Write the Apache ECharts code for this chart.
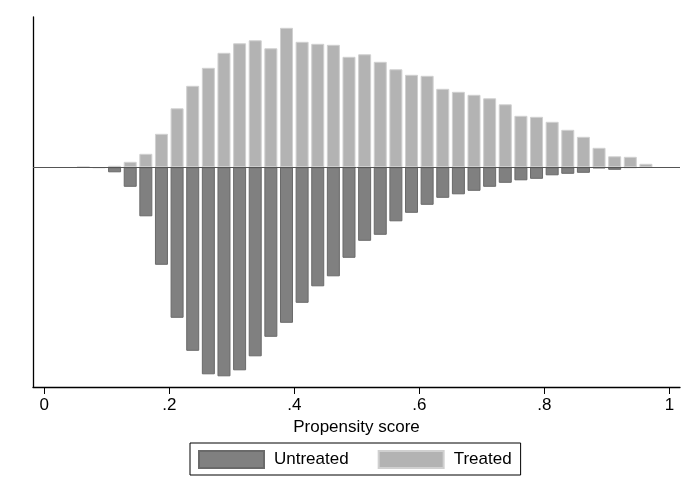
<!DOCTYPE html>
<html>
<head>
<meta charset="utf-8">
<script src="https://cdn.jsdelivr.net/npm/echarts@6/dist/echarts.min.js"></script>
<style>
html,body{margin:0;padding:0;background:#fff;}
#c{width:687px;height:498px;}
</style>
</head>
<body>
<div id="c"></div>
<script>
// Bin centres of the propensity-score histogram (bin width 0.025)
const binCenters = [0.0125,0.0375,0.0625,0.0875,0.1125,0.1375,0.1625,0.1875,0.2125,0.2375,
  0.2625,0.2875,0.3125,0.3375,0.3625,0.3875,0.4125,0.4375,0.4625,0.4875,
  0.5125,0.5375,0.5625,0.5875,0.6125,0.6375,0.6625,0.6875,0.7125,0.7375,
  0.7625,0.7875,0.8125,0.8375,0.8625,0.8875,0.9125,0.9375,0.9625,0.9875];
// Treated densities (drawn upward)
const treated = [0,0,0.01,0,0.03,0.11,0.27,0.67,1.18,1.63,
  1.99,2.29,2.48,2.54,2.38,2.79,2.51,2.47,2.45,2.21,
  2.26,2.11,1.96,1.85,1.83,1.57,1.51,1.45,1.38,1.26,
  1.03,1.01,0.91,0.75,0.61,0.39,0.22,0.21,0.07,0];
// Untreated densities (drawn downward, mirrored)
const untreated = [0,0,0,-0.01,-0.10,-0.39,-0.98,-1.95,-3.01,-3.67,
  -4.14,-4.18,-4.06,-3.78,-3.39,-3.11,-2.71,-2.38,-2.18,-1.81,
  -1.47,-1.35,-1.08,-0.91,-0.75,-0.61,-0.54,-0.47,-0.39,-0.31,
  -0.26,-0.23,-0.16,-0.13,-0.11,-0.02,-0.05,-0.01,0,0];
const tickValues = [0,0.2,0.4,0.6,0.8,1];
const tickLabels = ['0','.2','.4','.6','.8','1'];
const seriesNames = ['Untreated','Treated'];

const toPairs = (vals) => vals.map((v,i) => [binCenters[i], v]).filter(p => p[1] !== 0);

const chart = echarts.init(document.getElementById('c'), null, {renderer:'canvas'});
const font = '"Liberation Sans", Arial, Helvetica, sans-serif';
chart.setOption({
  animation:false,
  backgroundColor:'#ffffff',
  textStyle:{fontFamily:font},
  grid:{left:33, right:7, top:17, bottom:111, containLabel:false},
  xAxis:{
    type:'value', min:-0.018, max:1.017,
    name:'Propensity score', nameLocation:'middle', nameGap:30,
    nameTextStyle:{fontSize:17, color:'#000', fontFamily:font},
    axisLine:{show:true, onZero:false, lineStyle:{color:'#000', width:1.3}},
    axisTick:{show:true, customValues:tickValues, length:7, lineStyle:{color:'#000', width:1}},
    axisLabel:{show:true, customValues:tickValues, fontSize:17, color:'#000', margin:10, fontFamily:font,
      formatter:(v)=>{const i=tickValues.findIndex(t=>Math.abs(t-v)<1e-9); return i>=0?tickLabels[i]:'';}},
    splitLine:{show:false}
  },
  yAxis:{
    type:'value', min:-4.394, max:3.006,
    axisLine:{show:true, onZero:false, lineStyle:{color:'#000', width:1.3}},
    axisTick:{show:false}, axisLabel:{show:false}, splitLine:{show:false}
  },
  legend:{
    data:seriesNames, left:190, top:443, orient:'horizontal',
    itemWidth:65, itemHeight:17, itemGap:29,
    borderColor:'#000', borderWidth:1, backgroundColor:'#fff',
    padding:[7,9,6,8], borderRadius:0,
    icon:'rect',
    textStyle:{fontSize:17, color:'#000', fontFamily:font, padding:[0,0,0,5]}
  },
  series:[
    {
      name:'Untreated', type:'bar', data:toPairs(untreated), barWidth:13, barGap:'-100%',
      itemStyle:{color:'#808080', borderColor:'#6a6a6a', borderWidth:1},
      z:2,
      markLine:{silent:true, symbol:'none', label:{show:false},
        lineStyle:{color:'#555', width:1, type:'solid'},
        data:[{yAxis:0}]}
    },
    {
      name:'Treated', type:'bar', data:toPairs(treated), barWidth:13, barGap:'-100%',
      itemStyle:{color:'#b3b3b3', borderColor:'#d0d0d0', borderWidth:1},
      z:2
    }
  ]
});
</script>
</body>
</html>
